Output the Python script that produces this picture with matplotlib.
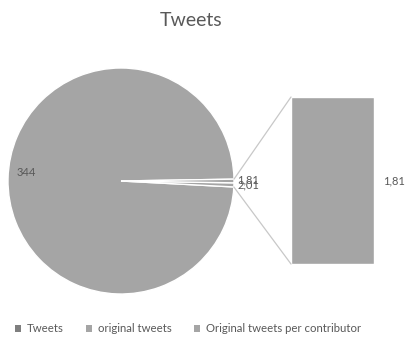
import matplotlib
matplotlib.use("Agg")
import matplotlib.pyplot as plt
from matplotlib.patches import Patch, ConnectionPatch
import numpy as np

plt.rcParams['font.family'] = ['Lato', 'DejaVu Sans']

categories = ["Tweets", "original tweets", "Original tweets per contributor"]
pie_values = [344, 2.01, 1.81]          # last one is the "other" slice shown in the bar
bar_values = [1.81]
pie_labels = ["344", "2,01", "1,81"]
bar_labels = ["1,81"]
title = "Tweets"

W, H = 406, 345
GRAY = "#a5a5a5"
TXT = "#595959"

fig = plt.figure(figsize=(W / 100, H / 100), dpi=100)
ax = fig.add_axes([0, 0, 1, 1])
ax.set_xlim(0, W)
ax.set_ylim(0, H)
ax.set_aspect("equal")
ax.axis("off")

cx, cy, r = 121, H - 181, 113
total = sum(pie_values)
angs = [v / total * 360 for v in pie_values]
start = -(angs[2] / 2 + angs[1] + angs[0])

wedges, _ = ax.pie(pie_values, center=(cx, cy), radius=r, startangle=start,
                   counterclock=True, colors=[GRAY] * 3,
                   wedgeprops=dict(edgecolor="white", linewidth=1.0))
ax.set_xlim(0, W)
ax.set_ylim(0, H)

# labels
for w, lab, dist, ha, dy in zip(wedges, pie_labels, [0.84, 1.03, 1.03],
                                ["center", "left", "left"], [7, 0, 1]):
    mid = np.deg2rad((w.theta1 + w.theta2) / 2)
    ax.text(cx + dist * r * np.cos(mid), cy + dist * r * np.sin(mid) + dy, lab,
            ha=ha, va="center", fontsize=8, color=TXT)

# bar of "other"
bax = fig.add_axes([291 / W, (H - 264) / H, 83 / W, 167 / H])
bax.bar([0], bar_values, width=1.0, color=GRAY, edgecolor="white", linewidth=1.0)
bax.set_xlim(-0.5, 0.5)
bax.set_ylim(0, sum(bar_values))
bax.axis("off")
bax.text(0.74, sum(bar_values) / 2, bar_labels[0], transform=bax.transData,
         ha="center", va="center", fontsize=8, color=TXT, clip_on=False)

# connector lines from small slices to bar corners
top_ang = np.deg2rad(wedges[2].theta2)
bot_ang = np.deg2rad(wedges[1].theta1)
p_top = (cx + r * np.cos(top_ang), cy + r * np.sin(top_ang))
p_bot = (cx + r * np.cos(bot_ang), cy + r * np.sin(bot_ang))
for p, yb in [(p_top, sum(bar_values)), (p_bot, 0)]:
    con = ConnectionPatch(xyA=p, coordsA=ax.transData, xyB=(-0.5, yb), coordsB=bax.transData,
                          color="#c8c8c8", linewidth=0.9)
    fig.add_artist(con)

fig.text(191 / W, 1 - 20 / H, title, ha="center", va="center", fontsize=14, color=TXT)

handles = [Patch(facecolor=c, edgecolor="none") for c in ["#7f7f7f", GRAY, GRAY]]
fig.legend(handles, categories, loc="center", bbox_to_anchor=(188 / W, 1 - 329 / H), ncol=3,
           frameon=False, fontsize=8.2, labelcolor=TXT, handlelength=0.5, handleheight=0.5,
           handletextpad=0.5, columnspacing=2.0)

fig.savefig("out.png", dpi=100)
